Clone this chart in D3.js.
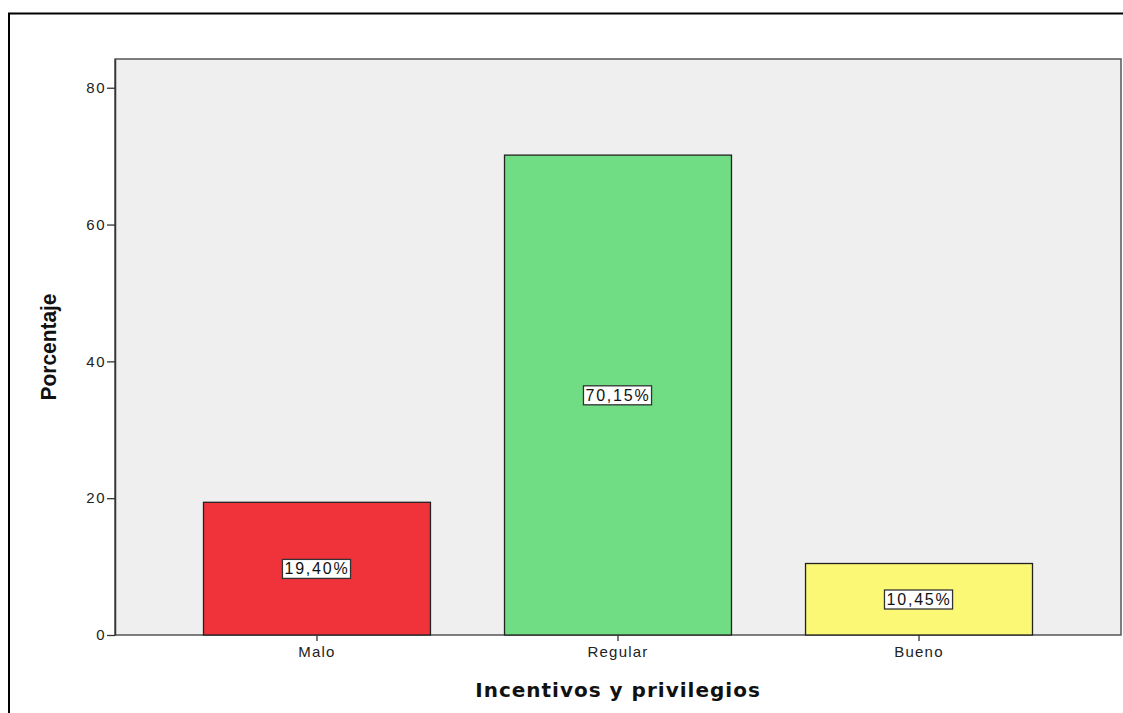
<!DOCTYPE html>
<html><head><meta charset="utf-8">
<script src="https://cdn.jsdelivr.net/npm/d3@7"></script>
<style>html,body{margin:0;padding:0;background:#fff}svg{display:block}</style>
</head><body>
<svg id="c" width="1123" height="713"></svg>
<script>
const categories = ["Malo", "Regular", "Bueno"];
const values = [19.40, 70.15, 10.45];
const valueLabels = ["19,40%", "70,15%", "10,45%"];
const colors = ["#f0333b", "#70dd84", "#fbf876"];
const yTicks = [0, 20, 40, 60, 80];

const svg = d3.select("#c");
const m = {l:115, t:59, r:1121, b:635};
const sans = "Liberation Sans, Arial, sans-serif";
svg.append("path").attr("d","M9,713 V13.5 H1123").attr("fill","none").attr("stroke","#000").attr("stroke-width",2);

const x = d3.scaleBand().domain(categories).range([m.l, m.r]).paddingInner(0.246).paddingOuter(0.294);
const y = d3.scaleLinear().domain([0, 84.2]).range([m.b, m.t]);

svg.append("rect").attr("x",m.l).attr("y",m.t).attr("width",m.r-m.l).attr("height",m.b-m.t)
  .attr("fill","#efefef").attr("stroke","#555").attr("stroke-width",1.5);

const data = categories.map((c,i)=>({c, v:values[i], lab:valueLabels[i], col:colors[i]}));
svg.selectAll("rect.bar").data(data).join("rect").attr("class","bar")
  .attr("x",d=>x(d.c)).attr("y",d=>y(d.v)).attr("width",x.bandwidth()).attr("height",d=>y(0)-y(d.v))
  .attr("fill",d=>d.col).attr("stroke","#222").attr("stroke-width",1.3);

const ya = svg.append("g").attr("transform",`translate(${m.l},0)`)
  .call(d3.axisLeft(y).tickValues(yTicks).tickSize(8).tickSizeOuter(0).tickPadding(1).tickFormat(d3.format("d")));
ya.select(".domain").attr("stroke","#333").attr("stroke-width",1.5);
ya.selectAll(".tick line").attr("stroke","#333").attr("stroke-width",1.3);
ya.selectAll("text").attr("font-family",sans).attr("font-size",15).attr("letter-spacing","1.5px").attr("fill","#222");

const xa = svg.append("g").attr("transform",`translate(0,${m.b})`)
  .call(d3.axisBottom(x).tickSize(6).tickSizeOuter(0).tickPadding(5));
xa.select(".domain").remove();
xa.selectAll(".tick line").attr("stroke","#333").attr("stroke-width",1.3);
xa.selectAll("text").attr("font-family",sans).attr("font-size",15).attr("letter-spacing","1.2px").attr("fill","#222");

const lg = svg.selectAll("g.lab").data(data).join("g").attr("class","lab")
  .attr("transform",d=>`translate(${x(d.c)+x.bandwidth()/2},${y(d.v/2)})`);
lg.append("text").attr("text-anchor","middle").attr("dy","0.36em")
  .attr("font-family",sans).attr("font-size",16).attr("letter-spacing","1.8px").attr("fill","#111")
  .text(d=>d.lab);
lg.each(function(){
  const g=d3.select(this); const b=g.select("text").node().getBBox();
  g.insert("rect","text").attr("x",b.x-2).attr("y",b.y-1).attr("width",b.width+3).attr("height",b.height+2)
   .attr("fill","#fff").attr("stroke","#333").attr("stroke-width",1.3);
});

svg.append("text").attr("x",(m.l+m.r)/2).attr("y",697).attr("text-anchor","middle")
  .attr("font-family","DejaVu Sans, sans-serif").attr("font-weight","bold").attr("font-size",20).attr("letter-spacing","1px").attr("fill","#111")
  .text("Incentivos y privilegios");
svg.append("text").attr("transform","translate(56,347) rotate(-90)").attr("text-anchor","middle")
  .attr("font-family",sans).attr("font-weight","bold").attr("font-size",22)
  .attr("textLength",107).attr("lengthAdjust","spacingAndGlyphs").attr("fill","#111")
  .text("Porcentaje");
</script>
</body></html>
